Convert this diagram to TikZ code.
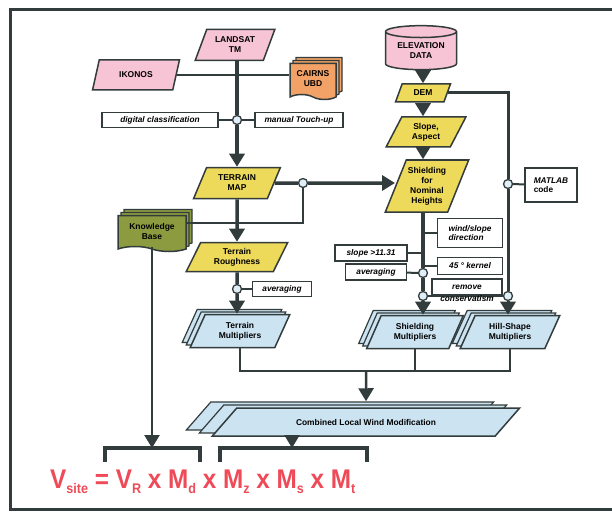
\documentclass[tikz,border=0pt]{standalone}
\usepackage{fontspec}
\setmainfont{Liberation Sans}
\newfontfamily\formulafont[FakeStretch=0.9]{Liberation Sans}
\usetikzlibrary{shapes.geometric,shapes.symbols,shadows,arrows.meta,positioning}
\definecolor{pinkbox}{HTML}{F6C4D4}
\definecolor{yellowbox}{HTML}{EDD95A}
\definecolor{bluebox}{HTML}{CCE3F2}
\definecolor{orangebox}{HTML}{F2A266}
\definecolor{olivebox}{HTML}{8D9B40}
\definecolor{linegray}{HTML}{323C3C}
\definecolor{formulared}{HTML}{EE4A57}
\newcommand{\lowsub}[1]{\raisebox{-5pt}{\fontsize{14}{14}\selectfont #1}}
\begin{document}
\begin{tikzpicture}[x=1pt,y=-1pt,
    txt/.style={font=\bfseries\fontsize{8.5}{10}\selectfont, align=center, inner sep=0pt},
    para/.style={trapezium, trapezium left angle=63, trapezium right angle=117,
        trapezium stretches=true, draw=linegray, line width=1.5pt, txt},
    stackpara/.style={para, fill=bluebox, double copy shadow={shadow xshift=-4pt,
        shadow yshift=2.5pt, fill=bluebox, draw=linegray, line width=1.2pt}},
    docstack/.style={tape, tape bend top=none, tape bend bottom=out and in, tape bend height=5pt,
        draw=linegray, line width=1.5pt, txt, fill=#1, double copy shadow={shadow xshift=3pt,
        shadow yshift=3pt, fill=#1, draw=linegray, line width=1.2pt}},
    note/.style={draw=linegray, fill=white, line width=1.4pt, align=left, inner xsep=3pt,
        inner ysep=0pt, font=\bfseries\itshape\fontsize{8.3}{9.5}\selectfont},
    joint/.style={circle, draw=linegray, fill=bluebox!60, line width=1.3pt, inner sep=0pt,
        minimum size=9pt},
    flow/.style={draw=linegray, line width=#1, -{Triangle[width=15pt,length=13pt]}},
    link/.style={draw=linegray, line width=#1}]
    \useasboundingbox (0,0) rectangle (612,513);
    \draw[line width=3pt, draw=linegray] (630,10) -- (10,10) -- (10,509) -- (630,509);

    \node[para, fill=pinkbox, minimum width=80, minimum height=31] (landsat) at (235,45) {LANDSAT\\TM};
    \node[para, fill=pinkbox, minimum width=87, minimum height=30] (ikonos) at (136,75) {IKONOS};
    \node[docstack=orangebox, minimum width=46, minimum height=36] (cairns) at (313,79) {CAIRNS\\UBD};
    \node[note, minimum width=116, minimum height=15] (digital) at (160,120) {digital classification};
    \node[note, minimum width=88, minimum height=15] (manual) at (299,120) {manual Touch-up};
    \node[joint] (jland) at (237,120) {};
    \node[para, fill=yellowbox, minimum width=87, minimum height=31] (terrainmap) at (237,183) {TERRAIN\\MAP};
    \node[docstack=olivebox, minimum width=68, minimum height=36] (kb) at (152,231) {Knowledge\\Base};
    \node[joint] (jmap) at (303,183) {};
    \coordinate (kbturn) at (303,223);
    \node[para, fill=yellowbox, minimum width=102, minimum height=29] (rough) at (237,257) {Terrain\\Roughness};
    \node[joint] (jrough) at (237,289) {};
    \node[note, minimum width=59, minimum height=15] (avgrough) at (282,289) {averaging};
    \node[stackpara, minimum width=100, minimum height=33] (terrainmult) at (240,331) {Terrain\\Multipliers};

    \node[cylinder, shape border rotate=90, aspect=0.25, draw=linegray, line width=1.5pt,
        fill=pinkbox, txt, minimum width=71, minimum height=44] (elev) at (421,51) {ELEVATION\\DATA};
    \node[para, fill=yellowbox, minimum width=55, minimum height=18] (dem) at (423,93) {DEM};
    \node[para, fill=yellowbox, minimum width=80, minimum height=30] (slope) at (426,132) {Slope,\\Aspect};
    \node[para, fill=yellowbox, minimum width=84, minimum height=52] (shield) at (427,186) {Shielding\\for\\Nominal\\Heights};
    \node[joint] (jmat) at (508,184) {};
    \node[note, minimum width=52, minimum height=34] (matlab) at (551,185) {MATLAB\\{\upshape code}};
    \node[note, minimum width=65, minimum height=29] (wind) at (470,233) {wind/slope\\direction};
    \node[note, minimum width=72, minimum height=16] (steep) at (371,253) {slope >11.31};
    \node[note, minimum width=65, minimum height=17] (kernel) at (470,266) {45 ° kernel};
    \node[note, minimum width=61, minimum height=16] (avgshield) at (376,272) {averaging};
    \node[joint] (javg) at (423,273) {};
    \node[joint] (jcons) at (423,296) {};
    \node[joint] (jhill) at (508,296) {};
    \node[stackpara, minimum width=97, minimum height=33] (shieldmult) at (415,332) {Shielding\\Multipliers};
    \node[stackpara, minimum width=100, minimum height=33] (hillmult) at (510,332) {Hill-Shape\\Multipliers};

    \coordinate (merge) at (366,371);
    \node[para, trapezium left angle=25, trapezium right angle=155, fill=bluebox,
        minimum width=308, minimum height=28, font=\bfseries\fontsize{8.4}{9}\selectfont,
        double copy shadow={shadow xshift=-13pt, shadow yshift=3pt, fill=bluebox,
        draw=linegray, line width=1.2pt}] (combined) at (366,422) {Combined Local Wind Modification};
    \coordinate (lbrack) at (152,448);
    \coordinate (rbrack) at (292,448);

    \draw[link=2pt] (ikonos.east) -- (ikonos.east -| cairns.west);
    \draw[link=2pt] (digital) -- (jland) -- (manual);
    \draw[flow=4.5pt] (jland |- landsat.south) -- (jland) -- (jland |- terrainmap.north);
    \draw[flow=3.5pt] (terrainmap) -- (jmap) -- (jmap -| shield.west);
    \draw[link=2.5pt] (kbturn -| kb.east) -- (kbturn) -- (jmap);
    \draw[flow=3.5pt] (terrainmap) -- (rough);
    \draw[flow=3.5pt] (rough) -- (jrough) -- (jrough |- terrainmult.north);
    \draw[link=2pt] (jrough) -- (avgrough);

    \draw[flow=3pt] (elev.south -| dem) -- (dem);
    \draw[flow=3pt] (dem.south) -- (dem.south |- slope.north);
    \draw[flow=3pt] (slope.south -| dem) -- (dem |- shield.north);
    \draw[flow=3pt] (dem.east) -- (dem.east -| jmat) -- (jmat) -- (jhill) -- (jhill |- hillmult.north);
    \draw[link=2pt] (jmat) -- (matlab);
    \draw[flow=3.5pt] (javg |- shield.south) -- (javg) -- (jcons) -- (jcons |- shieldmult.north);
    \draw[link=2pt] (wind.west -| javg) -- (wind.west);
    \draw[link=2pt] (steep.east) -- (steep.east -| javg);
    \draw[link=2pt] (kernel.west -| javg) -- (kernel.west);
    \draw[link=2pt] (avgshield) -- (javg);
    \draw[link=2pt] (jcons) -- (jhill);
    \node[note, align=center, minimum width=70, minimum height=16,
        label={[font=\bfseries\itshape\fontsize{8.3}{9.5}\selectfont, inner sep=0pt]below:conservatism}]
        (remove) at (467,287) {remove};

    \draw[link=1.5pt] (terrainmult.south) -- (terrainmult.south |- merge) -- (hillmult.south |- merge) -- (hillmult.south);
    \draw[link=1.5pt] (shieldmult.south) -- (shieldmult.south |- merge);
    \draw[flow=2.5pt] (merge) -- ([yshift=6pt]combined.north);
    \draw[flow=2.5pt] (kb.south) -- (lbrack);
    \draw[flow=2pt] (rbrack |- combined.south) -- (rbrack);
    \draw[link=3.5pt] (105,462) -- (105,448) -- (200,448) -- (200,462);
    \draw[link=3.5pt] (220,462) -- (220,448) -- (367,448) -- (367,462);

    \node[text=formulared, font=\formulafont\bfseries\fontsize{27}{27}\selectfont, anchor=base west,
        inner sep=0pt] (formula) at (50,488) {V\lowsub{site} = V\lowsub{R} x M\lowsub{d} x M\lowsub{z} x M\lowsub{s} x M\lowsub{t}};
\end{tikzpicture}
\end{document}
